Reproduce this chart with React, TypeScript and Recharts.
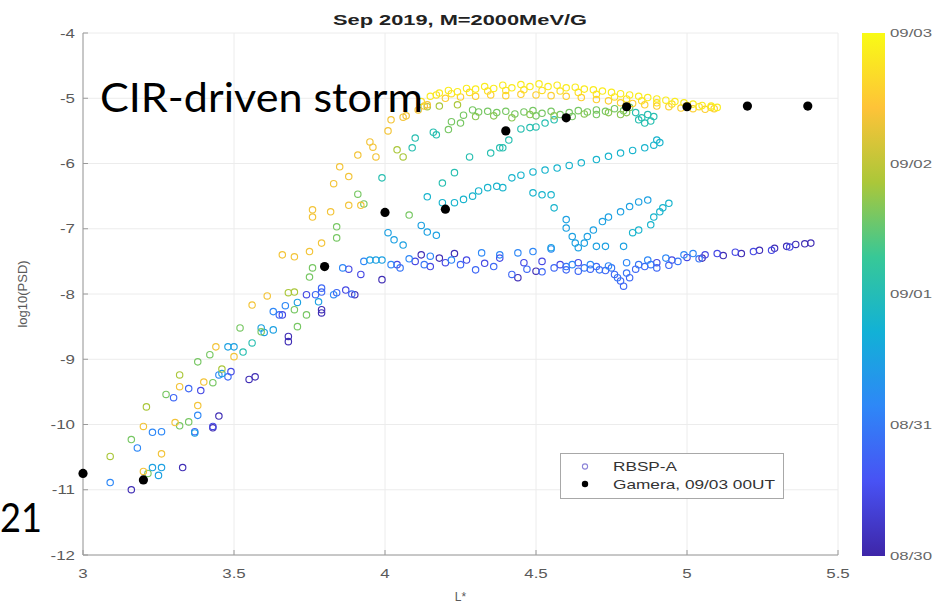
import { CartesianGrid, Legend, Scatter, ScatterChart, XAxis, YAxis } from 'recharts'

const xTicks = [3, 3.5, 4, 4.5, 5, 5.5]
const yTicks = [-12, -11, -10, -9, -8, -7, -6, -5, -4]
const colorTicks = ['08/30', '08/31', '09/01', '09/02', '09/03']

// RBSP-A passes as [L*, log10(PSD)]; passTimes = days after 08/30 00UT
const passTimes = [0.1, 0.45, 0.8, 0.95, 1.15, 1.5, 1.8, 2.05, 2.6, 2.7, 2.85, 3.35, 3.55, 3.7, 3.85]

const passA = [
  [3.16, -11.0], [3.33, -10.66], [3.43, -10.05], [3.45, -9.87], [3.55, -9.31], [3.57, -9.27],
  [3.68, -8.65], [3.68, -8.73], [3.79, -8.24], [3.79, -8.29], [3.9, -8.01], [3.99, -7.78],
  [4.12, -7.4], [4.18, -7.45], [4.23, -7.38],
  [4.44, -7.75], [4.5, -7.65], [5.05, -7.45], [5.12, -7.41], [5.18, -7.38], [5.24, -7.33],
  [5.29, -7.3], [5.33, -7.27], [5.36, -7.24], [5.39, -7.23], [5.41, -7.22],
]
const passB = [
  [3.39, -9.48], [3.43, -10.03], [3.49, -9.19], [3.66, -8.32], [3.74, -8.01], [3.87, -7.94],
  [3.88, -7.62], [3.92, -7.7], [4.04, -7.55], [4.1, -7.5], [4.15, -7.58], [4.2, -7.52],
  [4.27, -7.48], [4.33, -7.53], [4.38, -7.45], [4.46, -7.52], [4.52, -7.5], [4.58, -7.55],
  [4.64, -7.52], [4.9, -7.52], [4.95, -7.48], [5.0, -7.44], [5.06, -7.4], [5.1, -7.38],
  [5.16, -7.36], [5.22, -7.35], [5.28, -7.33], [5.34, -7.28],
]
const passC = [
  [3.35, -9.45], [3.37, -10.11], [3.3, -9.59], [3.48, -9.27], [3.65, -8.32], [3.77, -8.01],
  [3.79, -7.91], [3.79, -7.97], [3.84, -7.98], [3.89, -8.0], [4.25, -7.55], [4.3, -7.63],
  [4.36, -7.58], [4.42, -7.7], [4.47, -7.62], [4.52, -7.66], [4.56, -7.6], [4.6, -7.63],
  [4.64, -7.65], [4.68, -7.62], [4.7, -7.58], [4.73, -7.64], [4.76, -7.7], [4.78, -7.8],
  [4.79, -7.88], [4.81, -7.75], [4.83, -7.62], [4.86, -7.58], [4.9, -7.6], [4.94, -7.56],
]
const passC2 = [
  [4.05, -7.6], [4.13, -7.55], [4.6, -7.58], [4.66, -7.6], [4.71, -7.63], [4.75, -7.6],
  [4.77, -7.75], [4.8, -7.68], [4.84, -7.55], [4.88, -7.55], [4.97, -7.5], [5.04, -7.46],
]
const passD = [
  [3.09, -10.89], [3.18, -10.36], [3.23, -10.12], [3.26, -10.11], [3.38, -9.86], [3.45, -9.24],
  [3.63, -8.27], [3.67, -8.18], [3.83, -8.01], [3.86, -7.6], [3.93, -7.5], [4.02, -7.55],
  [4.08, -7.46], [4.15, -7.42], [4.22, -7.48], [4.32, -7.37], [4.38, -7.4], [4.44, -7.37],
  [4.49, -7.35], [4.55, -7.31], [4.62, -7.55], [4.68, -7.55], [4.74, -7.57], [4.8, -7.52],
  [4.87, -7.48], [4.93, -7.45], [4.99, -7.4], [5.02, -7.38],
]
const passE = [
  [3.23, -10.66], [3.26, -10.66], [3.25, -10.78], [3.37, -10.13], [3.48, -8.81], [3.5, -8.81],
  [3.46, -9.22], [3.59, -8.52], [3.6, -8.59], [3.63, -8.55], [3.71, -8.13], [3.78, -8.12],
  [3.95, -7.48], [3.97, -7.48], [3.99, -7.48], [4.01, -7.06], [4.03, -7.17], [4.06, -7.25],
  [4.12, -6.95], [4.14, -7.05], [4.17, -7.1], [4.6, -6.86], [4.6, -6.99], [4.62, -7.12],
  [4.63, -7.22], [4.64, -7.29], [4.66, -7.22], [4.67, -7.12], [4.69, -7.02], [4.72, -6.89],
  [4.74, -6.82], [4.78, -6.74], [4.81, -6.66], [4.84, -6.59], [4.87, -6.56], [4.7, -7.27],
  [4.73, -7.27], [4.79, -7.27], [4.55, -7.29],
]
const passF = [
  [4.14, -6.51], [4.19, -6.6], [4.23, -6.6], [4.26, -6.55], [4.29, -6.5], [4.31, -6.42],
  [4.34, -6.37], [4.37, -6.35], [4.39, -6.37], [4.42, -6.22], [4.45, -6.18], [4.49, -6.13],
  [4.53, -6.1], [4.57, -6.07], [4.61, -6.03], [4.65, -5.99], [4.7, -5.94], [4.74, -5.89],
  [4.78, -5.84], [4.82, -5.8], [4.86, -5.76], [4.89, -5.72], [4.91, -5.68], [4.9, -5.64],
  [4.49, -6.45], [4.52, -6.48], [4.55, -6.48], [4.56, -6.68], [4.82, -7.06], [4.84, -7.02],
  [4.88, -6.94], [4.89, -6.82], [4.91, -6.74], [4.94, -6.61], [4.92, -6.68],
]
const passG = [
  [3.53, -8.89], [3.56, -8.75], [3.99, -6.22], [4.09, -5.76], [4.1, -5.61], [4.16, -5.52],
  [4.17, -5.56], [4.19, -6.3], [4.23, -6.14], [4.28, -5.9], [4.35, -5.84], [4.38, -5.76],
  [4.39, -5.76], [4.41, -5.64], [4.45, -5.47], [4.48, -5.45], [4.5, -5.44], [4.53, -5.38],
  [4.56, -5.33], [4.83, -5.22], [4.85, -5.3], [4.87, -5.25], [4.88, -5.35], [4.86, -5.38],
  [4.89, -5.28], [4.84, -5.33],
]
const passH = [
  [3.16, -10.23], [3.215, -10.75], [3.32, -10.02], [3.35, -9.96], [3.275, -9.54], [3.38, -9.04],
  [3.42, -8.93], [3.43, -9.36], [3.52, -8.52], [3.59, -8.58], [3.71, -8.5], [3.74, -8.32],
  [3.7, -8.24], [3.75, -7.74], [3.76, -7.6], [3.84, -7.14], [3.84, -6.97], [3.91, -6.47],
  [3.93, -6.62], [4.08, -6.79], [4.21, -5.48], [4.22, -5.36], [4.25, -5.38], [4.26, -5.26],
  [4.29, -5.18], [4.31, -5.21], [4.34, -5.2], [4.37, -5.22], [4.4, -5.2], [4.43, -5.24],
  [4.46, -5.21], [4.49, -5.19], [4.52, -5.23], [4.55, -5.2], [4.58, -5.25], [4.61, -5.22],
  [4.64, -5.19], [4.67, -5.21], [4.7, -5.18], [4.73, -5.2], [4.76, -5.16], [4.79, -5.19],
  [4.81, -5.14], [4.5, -5.27], [4.62, -5.28], [4.7, -5.25],
]
const passH2 = [
  [4.3, -5.28], [4.36, -5.27], [4.42, -5.3], [4.48, -5.25], [4.56, -5.27], [4.66, -5.24],
  [4.74, -5.22], [4.78, -5.25], [4.8, -5.22],
]
const passI = [
  [3.09, -10.49], [3.21, -9.73], [3.32, -9.24], [3.46, -9.15], [3.68, -7.98], [3.7, -7.97],
  [4.04, -5.79], [4.06, -5.9], [4.14, -5.13], [4.18, -5.12], [4.24, -5.1],
]
const passJ = [
  [3.2, -10.03], [3.26, -10.45], [3.305, -9.97], [3.38, -9.71], [3.4, -9.35], [3.32, -9.42],
  [3.44, -8.81], [3.5, -8.96], [3.56, -8.17], [3.61, -8.03], [3.66, -7.4], [3.7, -7.43],
  [3.75, -7.35], [3.79, -7.22], [3.76, -6.71], [3.76, -6.82], [3.82, -6.74], [3.88, -6.64],
  [3.92, -6.64], [3.83, -6.31], [3.85, -6.05], [3.88, -6.2], [3.91, -5.87], [3.95, -5.67],
  [3.96, -5.75], [3.97, -5.9], [4.01, -5.5], [4.02, -5.33], [4.06, -5.29], [4.07, -5.27],
  [4.11, -5.18], [4.13, -5.12], [4.14, -5.1], [3.2, -10.72],
]
const passK = [
  [4.2, -5.0], [4.25, -4.98], [4.3, -4.97], [4.35, -4.95], [4.4, -4.96], [4.45, -4.94],
  [4.5, -4.95], [4.55, -4.96], [4.6, -4.97], [4.65, -4.99], [4.7, -5.02], [4.74, -5.04],
  [4.78, -5.07], [4.82, -5.08], [4.86, -5.1], [4.9, -5.12], [4.94, -5.13], [4.98, -5.15],
  [5.02, -5.16], [5.06, -5.17], [5.09, -5.16],
]
const passK2 = [
  [4.12, -5.05], [4.17, -4.95], [4.22, -4.93], [4.28, -4.91], [4.34, -4.89], [4.4, -4.88],
  [4.46, -4.87], [4.52, -4.88], [4.58, -4.89], [4.64, -4.91], [4.7, -4.94], [4.76, -4.98],
  [4.8, -5.01], [4.85, -5.04], [4.9, -5.07], [4.95, -5.09], [5.0, -5.11], [5.04, -5.13],
  [5.08, -5.14],
]
const passL = [
  [4.15, -4.97], [4.18, -4.92], [4.21, -4.88], [4.24, -4.9], [4.27, -4.85], [4.3, -4.86],
  [4.33, -4.82], [4.36, -4.85], [4.39, -4.8], [4.42, -4.84], [4.45, -4.79], [4.48, -4.82],
  [4.51, -4.78], [4.54, -4.82], [4.57, -4.8], [4.6, -4.84], [4.63, -4.83], [4.66, -4.86],
  [4.69, -4.87], [4.72, -4.89], [4.75, -4.91], [4.78, -4.93], [4.81, -4.95], [4.84, -4.97],
  [4.87, -4.99], [4.9, -5.01], [4.93, -5.03], [4.96, -5.05], [4.99, -5.07], [5.02, -5.09],
  [5.05, -5.11], [5.08, -5.12], [5.1, -5.14],
]

// Gamera, 09/03 00UT
const gameraL = [3.0, 3.2, 3.8, 4.0, 4.2, 4.4, 4.6, 4.8, 5.0, 5.2, 5.4]
const gameraPsd = [-10.75, -10.85, -7.58, -6.75, -6.7, -5.5, -5.3, -5.13, -5.13, -5.12, -5.12]

const passes = [
  passA, passB, passC, passC2, passD, passE, passF, passG, passH, passH2, passI, passJ, passK, passK2, passL,
]
const rbsp = passes.flatMap((pass, i) => pass.map(([x, y]) => ({ x, y, t: passTimes[i] })))
const gamera = gameraL.map((x, i) => ({ x, y: gameraPsd[i] }))

const PARULA = ['#3e26a8', '#4852f4', '#2e87f7', '#12b1d6', '#37c897', '#abc739', '#fec338', '#f9fb15']

function hex(c: string) {
  return [1, 3, 5].map((i) => parseInt(c.slice(i, i + 2), 16))
}

function parula(f: number) {
  const v = Math.min(1, Math.max(0, f)) * (PARULA.length - 1)
  const i = Math.min(PARULA.length - 2, Math.floor(v))
  const a = hex(PARULA[i])
  const b = hex(PARULA[i + 1])
  const k = v - i
  const c = a.map((n, j) => Math.round(n + (b[j] - n) * k))
  return `rgb(${c[0]},${c[1]},${c[2]})`
}

const AXIS = '#9a9a9a'
const TICK_TEXT = '#5a5a5a'

function RbspMark(props: any) {
  const { cx, cy, payload } = props
  if (cx == null || cy == null) return null
  return <circle cx={cx} cy={cy} r={3.2} fill="none" stroke={parula(payload.t / 4)} strokeWidth={1.15} />
}

function GameraMark(props: any) {
  const { cx, cy } = props
  if (cx == null || cy == null) return null
  return <circle cx={cx} cy={cy} r={4.6} fill="#000" />
}

function XTick({ x, y, payload }: any) {
  return (
    <g transform={`translate(${x},${y})`}>
      <line x1={0} x2={0} y1={-14} y2={-19} stroke={AXIS} />
      <text textAnchor="middle" dy="0.71em" fontSize={13} fill={TICK_TEXT} fontFamily="Liberation Sans, Arial" transform="scale(1.3,1)">
        {payload.value}
      </text>
    </g>
  )
}

function YTick({ x, y, payload }: any) {
  return (
    <g transform={`translate(${x},${y})`}>
      <line x1={8} x2={13} y1={0} y2={0} stroke={AXIS} />
      <text textAnchor="end" dy="0.355em" fontSize={13} fill={TICK_TEXT} fontFamily="Liberation Sans, Arial" transform="scale(1.3,1)">
        {payload.value}
      </text>
    </g>
  )
}

function LegendBox() {
  return (
    <svg width={224} height={46} style={{ display: 'block' }}>
      <rect x={0.5} y={0.5} width={223} height={45} fill="#fff" stroke="#a8a8a8" />
      <circle cx={25} cy={13.5} r={2.6} fill="none" stroke="#8c84d8" strokeWidth={1.1} />
      <circle cx={25} cy={31} r={3.2} fill="#000" />
      <text x={53} y={18} fontSize={13} fill="#333" fontFamily="Liberation Sans, Arial" textLength={64} lengthAdjust="spacingAndGlyphs">
        RBSP-A
      </text>
      <text x={53} y={36} fontSize={13} fill="#333" fontFamily="Liberation Sans, Arial" textLength={162} lengthAdjust="spacingAndGlyphs">
        Gamera, 09/03 00UT
      </text>
    </svg>
  )
}

export default function App() {
  const cbTop = 33
  const cbH = 523
  return (
    <div style={{ position: 'absolute', left: 0, top: 0, width: 936, height: 603, background: '#fff', overflow: 'hidden' }}>
      <ScatterChart width={936} height={603} margin={{ top: 33, right: 98, bottom: 0, left: 0 }}>
        <CartesianGrid stroke="#ececec" />
        <XAxis
          type="number"
          dataKey="x"
          domain={[3, 5.5]}
          ticks={xTicks}
          height={48}
          tickSize={0}
          tickMargin={14}
          tick={<XTick />}
          stroke={AXIS}
          label={{ value: 'L*', position: 'insideBottom', offset: 2, fill: TICK_TEXT, fontSize: 12, fontFamily: 'Liberation Sans, Arial' }}
        />
        <YAxis
          type="number"
          dataKey="y"
          domain={[-12, -4]}
          ticks={yTicks}
          width={83}
          tickSize={0}
          tickMargin={8}
          tick={<YTick />}
          stroke={AXIS}
          label={{
            value: 'log10(PSD)',
            angle: -90,
            position: 'insideLeft',
            offset: 22,
            fill: TICK_TEXT,
            fontSize: 13,
            fontFamily: 'Liberation Sans, Arial',
            style: { textAnchor: 'middle' },
          }}
        />
        <Scatter data={rbsp} shape={RbspMark} isAnimationActive={false} />
        <Scatter data={gamera} shape={GameraMark} isAnimationActive={false} />
        <Legend
          content={() => <LegendBox />}
          layout="horizontal"
          verticalAlign="middle"
          align="center"
          wrapperStyle={{ left: 560, top: 453, width: 224, height: 46 }}
        />
      </ScatterChart>
      <svg width={936} height={603} style={{ position: 'absolute', left: 0, top: 0, pointerEvents: 'none' }}>
        <defs>
          <linearGradient id="parulaBar" x1="0" y1="1" x2="0" y2="0">
            {PARULA.map((c, i) => (
              <stop key={c} offset={`${(i / (PARULA.length - 1)) * 100}%`} stopColor={c} />
            ))}
          </linearGradient>
        </defs>
        <text x={460} y={24.5} textAnchor="middle" fontSize={14} fontWeight="bold" fill="#222" fontFamily="Liberation Sans, Arial" textLength={254} lengthAdjust="spacingAndGlyphs">
          Sep 2019, M=2000MeV/G
        </text>
        <rect x={862} y={cbTop} width={23} height={cbH} fill="url(#parulaBar)" />
        {colorTicks.map((d, i) => (
          <text key={d} x={890} y={cbTop + cbH - (i * cbH) / (colorTicks.length - 1)} dy="0.355em" fontSize={11} fill="#666" fontFamily="Liberation Sans, Arial" textLength={42} lengthAdjust="spacingAndGlyphs">
            {d}
          </text>
        ))}
        <text x={100} y={112} fontSize={41} fill="#000" fontFamily="Lato, 'Open Sans', sans-serif" textLength={323} lengthAdjust="spacingAndGlyphs">
          CIR-driven storm
        </text>
        <text x={0} y={532} fontSize={41} fill="#000" fontFamily="Lato, 'Open Sans', sans-serif" textLength={42} lengthAdjust="spacingAndGlyphs">
          21
        </text>
      </svg>
    </div>
  )
}
